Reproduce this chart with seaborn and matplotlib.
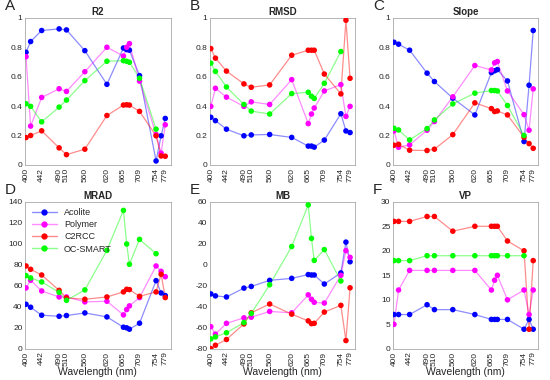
import pandas as pd
import numpy as np
import matplotlib
matplotlib.use("Agg")
import matplotlib.pyplot as plt
import seaborn as sns

# wavelengths (nm) of the bands
wl = [400, 412.5, 442.5, 490, 510, 560, 620, 665, 673.75, 681.25, 708.75, 753.75, 767.5, 778.75]
wl_ocs = wl[:12]   # OC-SMART has no 767/779 bands
tick_pos = [400, 442.5, 490, 510, 560, 620, 665, 708.75, 753.75, 778.75]
tick_lab = ["400", "442", "490", "510", "560", "620", "665", "709", "754", "779"]

# R2
r2_acolite = [0.766, 0.839, 0.914, 0.925, 0.918, 0.777, 0.548, 0.795, 0.784, 0.78, 0.607, 0.027, 0.198, 0.316]
r2_polymer = [0.736, 0.264, 0.459, 0.518, 0.5, 0.634, 0.8, 0.74, 0.80, 0.825, 0.57, 0.207, 0.08, 0.273]
r2_c2rcc = [0.186, 0.2, 0.232, 0.116, 0.07, 0.107, 0.336, 0.407, 0.409, 0.407, 0.364, 0.198, 0.061, 0.059]
r2_ocs = [0.416, 0.398, 0.293, 0.393, 0.441, 0.573, 0.705, 0.709, 0.705, 0.698, 0.589, 0.243]

# RMSD
rmsd_acolite = [0.324, 0.301, 0.243, 0.198, 0.204, 0.207, 0.187, 0.128, 0.128, 0.121, 0.169, 0.348, 0.231, 0.22]
rmsd_polymer = [0.398, 0.521, 0.461, 0.398, 0.429, 0.411, 0.58, 0.281, 0.346, 0.387, 0.503, 0.546, 0.33, 0.398]
rmsd_c2rcc = [0.791, 0.726, 0.638, 0.551, 0.528, 0.544, 0.746, 0.78, 0.78, 0.78, 0.618, 0.483, 0.984, 0.589]
rmsd_ocs = [0.692, 0.636, 0.53, 0.411, 0.366, 0.346, 0.485, 0.494, 0.467, 0.452, 0.555, 0.771]

# Slope
slope_acolite = [0.834, 0.821, 0.78, 0.624, 0.567, 0.454, 0.34, 0.628, 0.64, 0.648, 0.571, 0.159, 0.542, 0.914]
slope_polymer = [0.231, 0.12, 0.136, 0.236, 0.295, 0.463, 0.676, 0.646, 0.694, 0.703, 0.503, 0.342, 0.236, 0.517]
slope_c2rcc = [0.134, 0.14, 0.1, 0.098, 0.107, 0.206, 0.422, 0.383, 0.363, 0.367, 0.34, 0.188, 0.145, 0.113]
slope_ocs = [0.249, 0.238, 0.17, 0.247, 0.306, 0.415, 0.488, 0.506, 0.506, 0.503, 0.404, 0.2]

# MRAD
mrad_acolite = [42.4, 39.6, 32, 31, 31.7, 34.2, 30.4, 20.6, 20, 18.7, 24.4, 64.9, 53.2, 50.7]
mrad_polymer = [58, 65.3, 55.1, 49.4, 49.4, 44.7, 45.3, 32.3, 37.4, 40.9, 48.8, 78.9, 73.8, 68.7]
mrad_c2rcc = [78.9, 75.7, 70.3, 55.7, 48.5, 47.2, 49.4, 54.2, 56.7, 56.4, 50, 54.2, 71, 48.8]
mrad_ocs = [69.7, 67.5, 63.7, 53.8, 46.2, 56.1, 93.8, 131.8, 99.8, 80.5, 104.2, 90.6]

# MB
mb_acolite = [-27.7, -29.6, -30.6, -22.2, -20.6, -14.8, -12.9, -9.3, -9.7, -9.7, -18.3, -7.7, 21.6, 2.9]
mb_polymer = [-58.9, -66, -55.7, -50.5, -49.9, -44.4, -45.7, -28.6, -32.8, -35.7, -36.4, -10, 13.5, 7.1]
mb_c2rcc = [-79.8, -76.6, -71.1, -56.3, -45.7, -37.3, -47, -53.4, -56, -55.7, -45, -38.6, -72.1, -21.9]
mb_ocs = [-70.5, -68.6, -64.7, -55, -46.3, -19, 17.4, 57, 25.1, 4.2, 14.5, -15.4]

# VP
vp_acolite = [7, 7, 7, 9, 8, 8, 7, 6, 6, 6, 6, 4, 6, 4]
vp_polymer = [5, 12, 16, 16, 16, 16, 16, 12, 14, 15, 10, 12, 7, 12]
vp_c2rcc = [26, 26, 26, 27, 27, 24, 25, 25, 25, 25, 22, 20, 4, 18]
vp_ocs = [18, 18, 18, 19, 19, 19, 19, 19, 19, 19, 19, 19]

methods = ["Acolite", "Polymer", "C2RCC", "OC-SMART"]
colors = {"Acolite": "#0000ff", "Polymer": "#ff00ff", "C2RCC": "#ff0000", "OC-SMART": "#00ff00"}

panels = [
    ("A", "R2", [r2_acolite, r2_polymer, r2_c2rcc, r2_ocs], (0, 1), np.arange(0, 1.01, 0.2)),
    ("B", "RMSD", [rmsd_acolite, rmsd_polymer, rmsd_c2rcc, rmsd_ocs], (0, 1), np.arange(0, 1.01, 0.2)),
    ("C", "Slope", [slope_acolite, slope_polymer, slope_c2rcc, slope_ocs], (0, 1), np.arange(0, 1.01, 0.2)),
    ("D", "MRAD", [mrad_acolite, mrad_polymer, mrad_c2rcc, mrad_ocs], (0, 140), np.arange(0, 141, 20)),
    ("E", "MB", [mb_acolite, mb_polymer, mb_c2rcc, mb_ocs], (-80, 60), np.arange(-80, 61, 20)),
    ("F", "VP", [vp_acolite, vp_polymer, vp_c2rcc, vp_ocs], (0, 30), np.arange(0, 31, 5)),
]

sns.set_style("white")
plt.rcParams["font.family"] = ["Liberation Sans", "DejaVu Sans"]

fig = plt.figure(figsize=(5.5, 3.8), dpi=100)
lefts = [0.046, 0.382, 0.715]
bottoms = [0.566, 0.082]
w, h = 0.264, 0.387

for i, (letter, title, series, ylim, yticks) in enumerate(panels):
    ax = fig.add_axes([lefts[i % 3], bottoms[i // 3], w, h])
    rows = []
    for m, vals in zip(methods, series):
        xs = wl if len(vals) == len(wl) else wl_ocs
        for x, v in zip(xs, vals):
            rows.append({"wl": x, "val": v, "method": m})
    df = pd.DataFrame(rows)
    sns.lineplot(data=df, x="wl", y="val", hue="method", palette=colors, hue_order=methods,
                 sort=False, lw=0.9, alpha=0.45, legend=False, ax=ax, estimator=None)
    sns.scatterplot(data=df, x="wl", y="val", hue="method", palette=colors, hue_order=methods,
                    s=16, edgecolor="none", legend=False, ax=ax, zorder=3)
    ax.set_xlim(398, 793)
    ax.set_ylim(*ylim)
    ax.set_yticks(yticks)
    ax.set_yticklabels([f"{t:g}" for t in yticks])
    ax.set_xticks(tick_pos)
    ax.set_xticklabels(tick_lab, rotation=90)
    ax.tick_params(labelsize=6, direction="in", length=2, width=0.5, pad=2, colors="#262626")
    for sp in ax.spines.values():
        sp.set_linewidth(0.5)
        sp.set_color("#999999")
    ax.set_title(title, fontsize=7, fontweight="bold", pad=2)
    ax.set_ylabel("")
    if i >= 3:
        ax.set_xlabel("Wavelength (nm)", fontsize=7.5, labelpad=1)
    else:
        ax.set_xlabel("")
    fig.text(lefts[i % 3] - 0.037, bottoms[i // 3] + h + 0.03, letter, fontsize=11, va="center")
    if letter == "D":
        handles = [plt.Line2D([], [], color=colors[m], marker="o", ms=3.5, lw=1,
                              markerfacecolor=colors[m], markeredgecolor=colors[m])
                   for m in methods]
        for hd in handles:
            hd.set_color(matplotlib.colors.to_rgba(hd.get_color(), 0.45))
        leg = ax.legend(handles, methods, loc="upper left", frameon=False, fontsize=6.5,
                        handlelength=2.8, borderaxespad=0.3, labelspacing=0.35)

fig.savefig("out.png", dpi=100)
